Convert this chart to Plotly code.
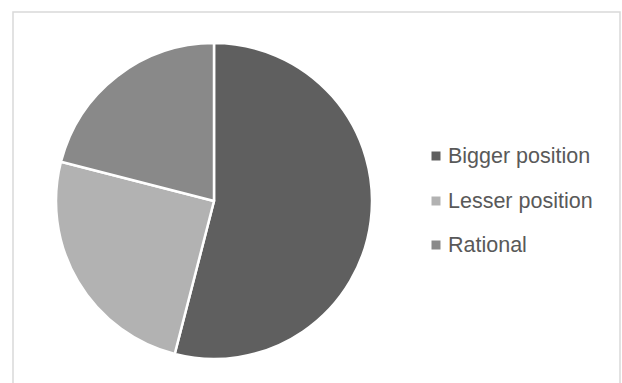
import plotly.graph_objects as go

labels = ["Bigger position", "Lesser position", "Rational"]
values = [54, 25, 21]
colors = ["#5f5f5f", "#b2b2b2", "#898989"]

W, H = 622, 383
cx, cy, r = 214, 201, 158

fig = go.Figure()
fig.add_trace(go.Pie(
    labels=labels,
    values=values,
    sort=False,
    direction="clockwise",
    rotation=0,
    marker=dict(colors=colors, line=dict(color="white", width=2.5)),
    textinfo="none",
    hoverinfo="label+percent",
    showlegend=False,
    domain=dict(x=[(cx - r) / W, (cx + r) / W],
                y=[(H - cy - r) / H, (H - cy + r) / H]),
))

# chart-area frame
shapes = [dict(type="rect", xref="paper", yref="paper",
               x0=13 / W, x1=620 / W, y0=-0.05, y1=(H - 12) / H,
               line=dict(color="#d9d9d9", width=1.5), layer="below")]

# legend: square swatch + label per slice
annotations = []
row_y = [156, 201, 245]
for lab, col, yy in zip(labels, colors, row_y):
    shapes.append(dict(type="rect", xref="paper", yref="paper",
                       x0=431.5 / W, x1=440.5 / W,
                       y0=(H - yy - 4.5) / H, y1=(H - yy + 4.5) / H,
                       fillcolor=col, line=dict(width=0)))
    annotations.append(dict(xref="paper", yref="paper", x=446 / W, y=(H - yy) / H,
                            text=lab, showarrow=False, xanchor="left", yanchor="middle",
                            font=dict(family="Liberation Sans, Arial, sans-serif",
                                      size=21.5, color="#595959")))

fig.update_layout(
    width=W, height=H,
    margin=dict(l=0, r=0, t=0, b=0),
    paper_bgcolor="white",
    plot_bgcolor="white",
    shapes=shapes,
    annotations=annotations,
)

fig.write_html("out.html")
